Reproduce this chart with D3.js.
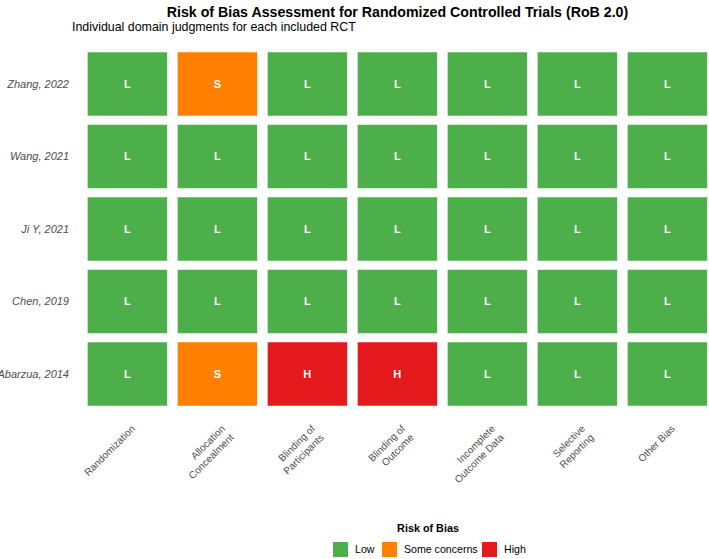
<!DOCTYPE html>
<html>
<head>
<meta charset="utf-8">
<script src="https://cdn.jsdelivr.net/npm/d3@7"></script>
<style>
  body { margin: 0; background: #fff; }
  svg { font-family: "Liberation Sans", Arial, sans-serif; }
</style>
</head>
<body>
<div id="chart"></div>
<script>
// studies, top to bottom
const studies = ["Zhang, 2022", "Wang, 2021", "Ji Y, 2021", "Chen, 2019", "Abarzua, 2014"];
// bias domains (x axis), line breaks as "\n"
const domains = [
  "Randomization",
  "Allocation\nConcealment",
  "Blinding of\nParticipants",
  "Blinding of\nOutcome",
  "Incomplete\nOutcome Data",
  "Selective\nReporting",
  "Other Bias"
];
// judgments per study, one letter per domain
const judgments = [
  ["L", "S", "L", "L", "L", "L", "L"],
  ["L", "L", "L", "L", "L", "L", "L"],
  ["L", "L", "L", "L", "L", "L", "L"],
  ["L", "L", "L", "L", "L", "L", "L"],
  ["L", "S", "H", "H", "L", "L", "L"]
];
const levels = ["L", "S", "H"];
const levelNames = ["Low", "Some concerns", "High"];
const levelColors = ["#4DAF4A", "#FF7F00", "#E41A1C"];

const width = 709, height = 559;

const svg = d3.select("#chart").append("svg")
  .attr("width", width)
  .attr("height", height);

const x = d3.scaleBand()
  .domain(domains)
  .range([82.3, 712.3])
  .paddingInner(10 / 90)
  .paddingOuter(5 / 90);

const y = d3.scaleBand()
  .domain(studies)
  .range([47.75, 410.25])
  .paddingInner(8.5 / 72.5)
  .paddingOuter(4.25 / 72.5);

const color = d3.scaleOrdinal().domain(levels).range(levelColors);

// flatten into cells
const cells = [];
studies.forEach((s, i) => {
  domains.forEach((d, j) => {
    cells.push({ study: s, domain: d, value: judgments[i][j] });
  });
});

// title + subtitle
svg.append("text")
  .attr("x", 397.5)
  .attr("y", 17)
  .attr("text-anchor", "middle")
  .style("font-size", "14.2px")
  .style("font-weight", "bold")
  .style("fill", "#000")
  .text("Risk of Bias Assessment for Randomized Controlled Trials (RoB 2.0)");

svg.append("text")
  .attr("x", 72)
  .attr("y", 31)
  .style("font-size", "12.4px")
  .style("fill", "#000")
  .text("Individual domain judgments for each included RCT");

// tiles
const g = svg.append("g");
g.selectAll("rect")
  .data(cells)
  .join("rect")
  .attr("x", d => x(d.domain))
  .attr("y", d => y(d.study))
  .attr("width", x.bandwidth())
  .attr("height", y.bandwidth())
  .attr("fill", d => color(d.value))
  .attr("stroke", "#fff")
  .attr("stroke-width", 0.5);

g.selectAll("text.cell")
  .data(cells)
  .join("text")
  .attr("class", "cell")
  .attr("x", d => x(d.domain) + x.bandwidth() / 2)
  .attr("y", d => y(d.study) + y.bandwidth() / 2)
  .attr("dy", "0.36em")
  .attr("text-anchor", "middle")
  .style("font-size", "11px")
  .style("font-weight", "bold")
  .style("fill", "#fff")
  .text(d => d.value);

// y axis labels
svg.append("g")
  .selectAll("text")
  .data(studies)
  .join("text")
  .attr("x", 69)
  .attr("y", d => y(d) + y.bandwidth() / 2)
  .attr("dy", "0.35em")
  .attr("text-anchor", "end")
  .style("font-size", "11px")
  .style("font-style", "italic")
  .style("fill", "#4d4d4d")
  .text(d => d);

// x axis labels, rotated 45deg, right aligned lines
const xl = svg.append("g")
  .selectAll("g")
  .data(domains)
  .join("g")
  .attr("transform", d => `translate(${x(d) + x.bandwidth() / 2 + 3},${424}) rotate(-45)`);

xl.selectAll("text")
  .data(d => d.split("\n"))
  .join("text")
  .attr("x", 0)
  .attr("y", (d, i) => i * 12.5)
  .attr("dy", "0.75em")
  .attr("text-anchor", "end")
  .style("font-size", "10px")
  .style("fill", "#4d4d4d")
  .text(d => d);

// legend
const legend = svg.append("g");
legend.append("text")
  .attr("x", 428)
  .attr("y", 532)
  .attr("text-anchor", "middle")
  .style("font-size", "10.8px")
  .style("font-weight", "bold")
  .style("fill", "#000")
  .text("Risk of Bias");

const keyX = [333, 382, 482];
const items = legend.selectAll("g.item")
  .data(levels)
  .join("g")
  .attr("class", "item")
  .attr("transform", (d, i) => `translate(${keyX[i]},542)`);

items.append("rect")
  .attr("width", 15)
  .attr("height", 15)
  .attr("fill", d => color(d));

items.append("text")
  .attr("x", 22)
  .attr("y", 7.5)
  .attr("dy", "0.35em")
  .style("font-size", "10.6px")
  .style("fill", "#000")
  .text((d, i) => levelNames[i]);
</script>
</body>
</html>
